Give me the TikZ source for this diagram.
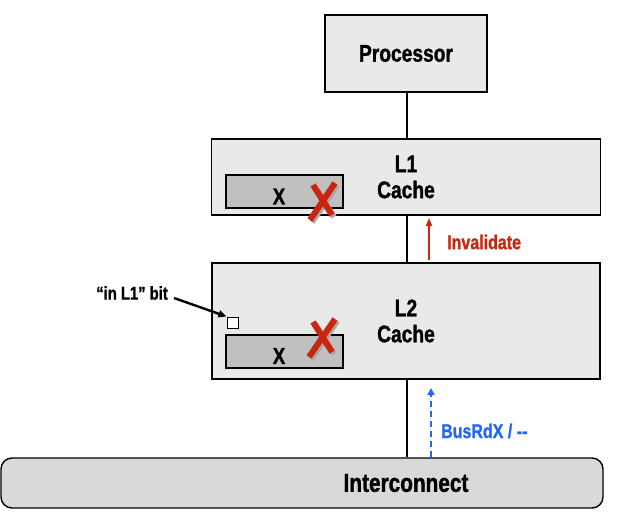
\documentclass[tikz,border=0pt]{standalone}
\usepackage{fontspec}
\setmainfont{Liberation Sans}[FakeStretch=0.8, BoldFeatures={FakeBold=1.2}]
\usetikzlibrary{arrows.meta}
\definecolor{boxfill}{HTML}{E9E9E9}
\definecolor{blockfill}{HTML}{C0C0C0}
\definecolor{busfill}{HTML}{D9D9D9}
\definecolor{xred}{HTML}{C8260F}
\definecolor{invred}{HTML}{C22A12}
\definecolor{busblue}{HTML}{2468F2}
\tikzset{
  unitbox/.style={draw=black, line width=1.4pt, fill=boxfill, inner sep=0pt, align=center,
    font=\bfseries\fontsize{24}{27}\selectfont},
  block/.style={draw=black, line width=1.2pt, fill=blockfill, minimum width=117pt, minimum height=33pt, inner sep=0pt},
  xlabel/.style={font=\bfseries\fontsize{23}{25}\selectfont, inner sep=0pt},
  bitbox/.style={draw=black, line width=1pt, fill=white, minimum size=11pt, inner sep=0pt},
  smalllabel/.style={font=\bfseries\fontsize{20}{22}\selectfont, inner sep=0pt, anchor=west},
  wire/.style={line width=1.3pt},
  redx/.style={xred, line width=6pt},
  redxshadow/.style={black!35, line width=6pt},
}
\begin{document}
\begin{tikzpicture}[x=1pt,y=-1pt]
\useasboundingbox (0,0) rectangle (624,524);
% boxes
\node[unitbox, minimum width=162pt, minimum height=77pt] (proc) at (406,53.5) {Processor};
\node[unitbox, minimum width=389pt, minimum height=76pt] (l1) at (406,177) {L1\\[-1pt]Cache};
\node[unitbox, minimum width=388pt, minimum height=116pt] (l2) at (406,321) {L2\\[-1pt]Cache};
\node[draw=black, line width=1.4pt, fill=busfill, rounded corners=11pt, minimum width=602pt, minimum height=50pt,
  inner sep=0pt, font=\bfseries\fontsize{26}{28}\selectfont] (ic) at (302,483) {\hspace*{208pt}Interconnect};
% wires
\coordinate (w1) at (407,92);
\coordinate (w2) at (407,215);
\coordinate (w3) at (407,379);
\draw[wire] (w1) -- (w1 |- l1.north);
\draw[wire] (w2) -- (w2 |- l2.north);
\draw[wire] (w3) -- (w3 |- ic.north);
% blocks
\node[block] (b1) at (284.5,191.5) {};
\node[xlabel] (x1) at (279,196.5) {X};
\node[block] (b2) at (284.5,351.5) {};
\node[xlabel] (x2) at (279,356) {X};
\node[bitbox] (bit) at (232.5,322.5) {};
% red crosses
\begin{scope}[shift={(2,2)}]
\draw[redxshadow] (335,183) -- (310,220);
\draw[redxshadow] (313,185) -- (332,215);
\draw[redxshadow] (335,319) -- (309,357);
\draw[redxshadow] (313,322) -- (332,352);
\end{scope}
\draw[redx] (313,185) -- (332,215);
\draw[redx] (335,183) -- (310,220);
\draw[redx] (313,322) -- (332,352);
\draw[redx] (335,319) -- (309,357);
% in L1 bit label
\node[font=\bfseries\fontsize{18.5}{20}\selectfont, inner sep=0pt, anchor=east] (bitlbl) at (168,293) {“in L1” bit};
\draw[line width=2.4pt, -{Triangle[length=8pt,width=7pt]}] (bitlbl.east) ++(6,5) coordinate (bs) -- (bit.north west);
% invalidate
\coordinate (i0) at (429,260);
\coordinate (i1) at (429,218);
\draw[invred, line width=1.6pt, -{Triangle[length=8pt,width=6pt]}] (i0) -- (i1);
\node[smalllabel, text=invred] (inv) at (447,242) {Invalidate};
% bus
\coordinate (u0) at (431,457);
\coordinate (u1) at (431,388);
\draw[busblue, line width=2.4pt, dash pattern=on 6pt off 4pt, -{Triangle[length=7pt,width=7pt]}] (u0) -- (u1);
\node[smalllabel, text=busblue] (bus) at (441,431) {BusRdX / -{}-};
\end{tikzpicture}
\end{document}
